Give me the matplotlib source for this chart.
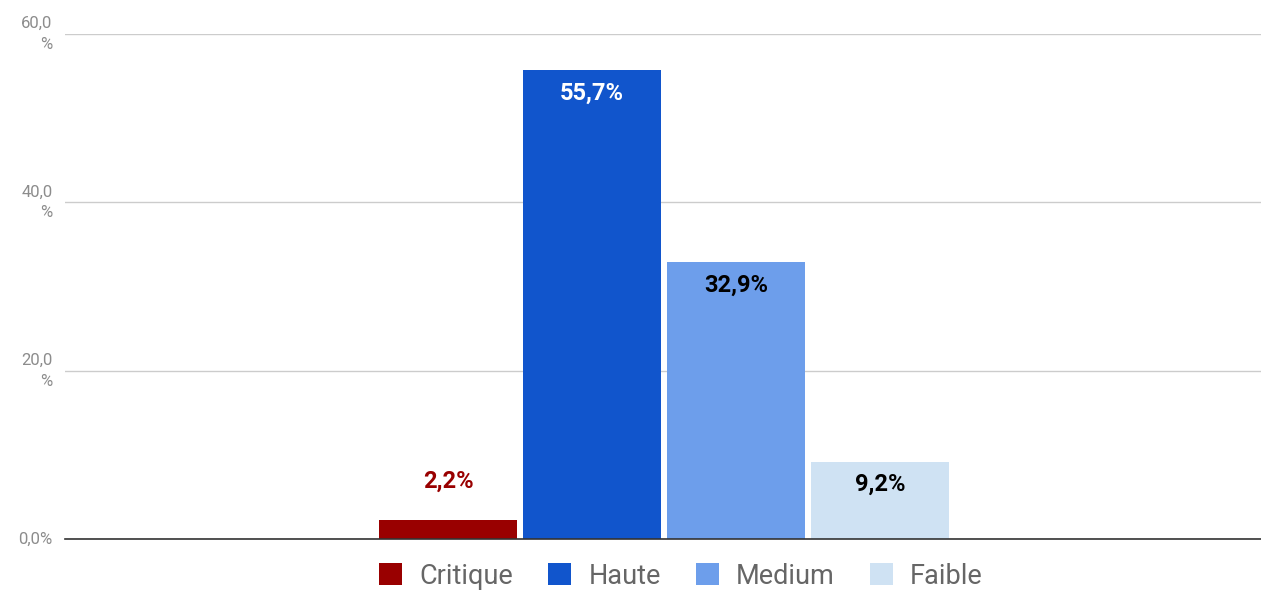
import matplotlib
matplotlib.use("Agg")
import matplotlib.pyplot as plt
from matplotlib.patches import Patch

series = ["Critique", "Haute", "Medium", "Faible"]
values = [2.2, 55.7, 32.9, 9.2]
labels = ["2,2%", "55,7%", "32,9%", "9,2%"]
colors = ["#990000", "#1155cc", "#6d9eeb", "#cfe2f3"]
label_colors = ["#990000", "#ffffff", "#000000", "#000000"]
yticks = [0, 20, 40, 60]
ytick_labels = ["0,0%", "20,0\n%", "40,0\n%", "60,0\n%"]

plt.rcParams['font.family'] = ['Roboto', 'DejaVu Sans']

W, H = 1261, 591
fig = plt.figure(figsize=(W / 100, H / 100), dpi=100)
ax = fig.add_axes([65 / W, (H - 539) / H, (1261 - 65) / W, (539 - 34) / H])

positions = [-1.5, -0.5, 0.5, 1.5]
bw = 138 / 144
ax.bar(positions, values, width=bw, color=colors, zorder=3)

px = 60 / 505  # data units per pixel
for p, v, lab, lc in zip(positions, values, labels, label_colors):
    if v > 5:
        y = v - 23 * px
    else:
        y = v + 39 * px
    ax.text(p, y, lab, ha="center", va="center", color=lc,
            fontsize=17, fontweight="bold", zorder=4)

ax.set_xlim((65 - 664) / 144, (1261 - 664) / 144)
ax.set_ylim(0, 60)
ax.set_yticks(yticks)
ax.set_yticklabels(ytick_labels, color="#8c8c8c", fontsize=12,
                   linespacing=1.5)
for t in ax.get_yticklabels():
    t.set_horizontalalignment("right")
    t.set_verticalalignment("center")
    t.set_multialignment("right")
ax.tick_params(axis="y", length=0, pad=9)
ax.tick_params(axis="x", bottom=False, labelbottom=False)

ax.grid(axis="y", color="#cccccc", linewidth=1, zorder=0)
for s in ["top", "right", "left"]:
    ax.spines[s].set_visible(False)
ax.spines["bottom"].set_color("#333333")
ax.spines["bottom"].set_linewidth(1.2)
ax.spines["bottom"].set_zorder(5)

handles = [Patch(facecolor=c, edgecolor="none") for c in colors]
fig.legend(handles, series, loc="center", bbox_to_anchor=(681 / W, 1 - 576 / H),
           ncol=4, frameon=False, fontsize=19.5, handlelength=0.85,
           handleheight=0.85, handletextpad=0.63, columnspacing=1.3,
           labelcolor="#666666", borderaxespad=0, borderpad=0)

fig.savefig("out.png", dpi=100)
